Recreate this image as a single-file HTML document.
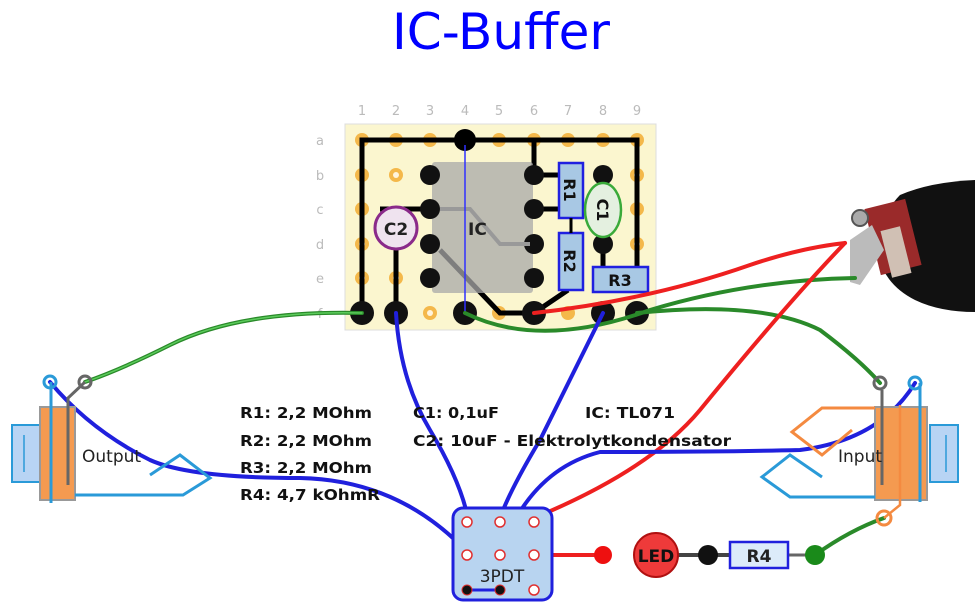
<!DOCTYPE html>
<html><head><meta charset="utf-8"><style>
html,body{margin:0;padding:0;background:#fff;}
svg{display:block;}
text{font-family:"DejaVu Sans","Liberation Sans",sans-serif;}
</style></head><body>
<svg width="980" height="606" viewBox="0 0 980 606" xmlns="http://www.w3.org/2000/svg">
<text x="392" y="49" font-size="50" fill="#0000ff" textLength="218" lengthAdjust="spacingAndGlyphs">IC-Buffer</text>

<g font-size="13" fill="#bbb" text-anchor="middle">
<text x="362" y="115">1</text><text x="396" y="115">2</text><text x="430" y="115">3</text><text x="465" y="115">4</text><text x="499" y="115">5</text><text x="534" y="115">6</text><text x="568" y="115">7</text><text x="603" y="115">8</text><text x="637" y="115">9</text>
<text x="320" y="145">a</text><text x="320" y="180">b</text><text x="320" y="214">c</text><text x="320" y="249">d</text><text x="320" y="283">e</text><text x="320" y="318">f</text>
</g>

<rect x="345" y="124" width="311" height="206" fill="#fbf6cf" stroke="#ddd"/>
<g fill="#f4b84a">
<circle cx="362" cy="140" r="7"/><circle cx="396" cy="140" r="7"/><circle cx="430" cy="140" r="7"/><circle cx="499" cy="140" r="7"/><circle cx="534" cy="140" r="7"/><circle cx="568" cy="140" r="7"/><circle cx="603" cy="140" r="7"/><circle cx="637" cy="140" r="7"/>
<circle cx="362" cy="175" r="7"/><circle cx="396" cy="175" r="7"/><circle cx="637" cy="175" r="7"/>
<circle cx="362" cy="209" r="7"/><circle cx="637" cy="209" r="7"/>
<circle cx="362" cy="244" r="7"/><circle cx="637" cy="244" r="7"/>
<circle cx="362" cy="278" r="7"/><circle cx="396" cy="278" r="7"/>
<circle cx="430" cy="313" r="7"/><circle cx="499" cy="313" r="7"/><circle cx="568" cy="313" r="7"/>
</g>
<g fill="#fff4dc">
<circle cx="396" cy="175" r="3"/><circle cx="430" cy="313" r="3"/><circle cx="396" cy="278" r="3"/><circle cx="637" cy="175" r="3"/><circle cx="637" cy="244" r="3"/><circle cx="362" cy="244" r="3"/><circle cx="362" cy="278" r="3"/>
</g>

<g stroke="#000" stroke-width="5" fill="none">
<polyline points="362,313 362,140 637,140 637,278"/>
<polyline points="534,140 534,175 560,175"/>
<line x1="534" y1="209" x2="560" y2="209"/>
<line x1="396" y1="313" x2="396" y2="250"/>
<line x1="603" y1="175" x2="603" y2="268"/>
<polyline points="568,290 534,313 500,313 440,250"/>
<line x1="430" y1="209" x2="380" y2="209"/>
</g>
<circle cx="465" cy="140" r="11" fill="#000"/>

<rect x="432" y="162" width="101" height="131" fill="#a8a8a8" opacity="0.75" rx="3"/>
<g fill="#111">
<circle cx="430" cy="175" r="10"/><circle cx="430" cy="209" r="10"/><circle cx="430" cy="244" r="10"/><circle cx="430" cy="278" r="10"/>
<circle cx="534" cy="175" r="10"/><circle cx="534" cy="209" r="10"/><circle cx="534" cy="244" r="10"/><circle cx="534" cy="278" r="10"/>
<circle cx="603" cy="175" r="10"/><circle cx="603" cy="244" r="10"/>
</g>
<g stroke="#999" stroke-width="4" fill="none"><polyline points="440,209 470,209 500,244 530,244"/></g>
<text x="468" y="235" font-size="17" font-weight="bold" font-family="Liberation Serif,serif" fill="#222">IC</text>

<circle cx="396" cy="228" r="21" fill="#efe3ef" stroke="#8a2a8a" stroke-width="3"/>
<text x="396" y="235" font-size="17" font-weight="bold" text-anchor="middle" fill="#222">C2</text>
<rect x="559" y="163" width="24" height="55" fill="#a8c8e4" stroke="#2020e0" stroke-width="2.5"/>
<rect x="559" y="233" width="24" height="57" fill="#a8c8e4" stroke="#2020e0" stroke-width="2.5"/>
<line x1="571" y1="218" x2="571" y2="233" stroke="#000" stroke-width="3"/>
<text transform="translate(564,190) rotate(90)" font-size="16" font-weight="bold" text-anchor="middle" fill="#111">R1</text>
<text transform="translate(564,261) rotate(90)" font-size="16" font-weight="bold" text-anchor="middle" fill="#111">R2</text>
<rect x="593" y="267" width="55" height="25" fill="#a8c8e4" stroke="#2020e0" stroke-width="2.5"/>
<text x="620" y="286" font-size="16" font-weight="bold" text-anchor="middle" fill="#111">R3</text>
<ellipse cx="603" cy="210" rx="18" ry="27" fill="#e4f0e0" stroke="#3aaa3a" stroke-width="2.5"/>
<text transform="translate(597,210) rotate(90)" font-size="16" font-weight="bold" text-anchor="middle" fill="#111">C1</text>

<g fill="#111">
<circle cx="362" cy="313" r="12"/><circle cx="396" cy="313" r="12"/><circle cx="465" cy="313" r="12"/><circle cx="534" cy="313" r="12"/><circle cx="603" cy="313" r="12"/><circle cx="637" cy="313" r="12"/>
</g>
<line x1="465" y1="145" x2="465" y2="313" stroke="#3030ff" stroke-width="1.5"/>

<!-- jack photo -->
<g>
<path d="M900,195 Q930,182 975,180 L975,312 Q940,312 915,300 Q885,285 878,255 Q880,215 900,195 Z" fill="#111"/>
<rect x="872" y="203" width="42" height="68" fill="#9a2a2a" transform="rotate(-14 893 237)"/>
<rect x="886" y="228" width="20" height="48" fill="#d0c0b4" transform="rotate(-14 896 252)"/>
<circle cx="860" cy="218" r="8" fill="#aaa" stroke="#555" stroke-width="2"/>
<polygon points="850,240 872,225 884,250 860,285 850,282" fill="#bbb"/>
</g>

<g fill="none" stroke-linecap="round">
<path d="M362,313 Q240,310 170,345 Q120,370 85,382" stroke="#2a8a2a" stroke-width="4"/>
<path d="M362,313 Q240,310 170,345 Q120,370 85,382" stroke="#5ccc5c" stroke-width="1.5"/>
<path d="M465,313 Q540,350 650,310 Q750,280 855,278" stroke="#2a8a2a" stroke-width="4"/>
<path d="M637,313 Q760,300 820,330 Q860,360 880,383" stroke="#2a8a2a" stroke-width="4"/>
<path d="M534,313 Q650,300 750,265 Q800,248 845,243" stroke="#ee2020" stroke-width="4"/>
<path d="M534,518 Q650,470 700,410 Q790,300 845,243" stroke="#ee2020" stroke-width="4"/>
<path d="M396,313 Q400,380 430,430 Q460,480 468,518" stroke="#2020dd" stroke-width="4"/>
<path d="M603,313 Q570,380 540,440 Q510,490 500,518" stroke="#2020dd" stroke-width="4"/>
<path d="M500,553 Q530,470 600,452 Q720,452 800,450 Q880,440 915,383" stroke="#2020dd" stroke-width="4"/>
<path d="M50,382 Q90,430 150,460 Q190,478 300,478 Q400,480 468,553" stroke="#2020dd" stroke-width="4"/>
<path d="M815,555 Q850,530 884,518" stroke="#2a8a2a" stroke-width="4"/>
<line x1="534" y1="555" x2="603" y2="555" stroke="#ee2020" stroke-width="4"/>
</g>

<rect x="12" y="425" width="28" height="57" fill="#b8d4f4" stroke="#2a9ad8" stroke-width="2"/>
<line x1="24" y1="435" x2="24" y2="472" stroke="#2a9ad8" stroke-width="1.5"/>
<rect x="40" y="407" width="35" height="93" fill="#f49a50" stroke="#999" stroke-width="2"/>
<line x1="51" y1="382" x2="51" y2="503" stroke="#2a9ad8" stroke-width="3"/>
<circle cx="50" cy="382" r="6" fill="none" stroke="#2a9ad8" stroke-width="3"/>
<polyline points="68,485 68,398 85,382" fill="none" stroke="#666" stroke-width="3"/>
<circle cx="85" cy="382" r="6" fill="none" stroke="#666" stroke-width="3"/>
<polyline points="75,495 183,495 210,478 180,455 150,475" fill="none" stroke="#2a9ad8" stroke-width="3"/>
<text x="82" y="462" font-size="17" fill="#222">Output</text>

<rect x="930" y="425" width="28" height="57" fill="#b8d4f4" stroke="#2a9ad8" stroke-width="2"/>
<line x1="946" y1="435" x2="946" y2="472" stroke="#2a9ad8" stroke-width="1.5"/>
<rect x="875" y="407" width="52" height="93" fill="#f49a50" stroke="#999" stroke-width="2"/>
<line x1="920" y1="383" x2="920" y2="502" stroke="#2a9ad8" stroke-width="3"/>
<circle cx="915" cy="383" r="6" fill="none" stroke="#2a9ad8" stroke-width="3"/>
<line x1="882" y1="390" x2="882" y2="485" stroke="#666" stroke-width="3"/>
<circle cx="880" cy="383" r="6" fill="none" stroke="#666" stroke-width="3"/>
<polyline points="900,405 900,505 884,518" fill="none" stroke="#f48a40" stroke-width="2.5"/>
<circle cx="884" cy="518" r="7" fill="none" stroke="#f48a40" stroke-width="3"/>
<polyline points="875,408 822,408 792,432 822,455 852,430" fill="none" stroke="#f48a40" stroke-width="3"/>
<polyline points="875,497 790,497 762,477 790,455 822,477" fill="none" stroke="#2a9ad8" stroke-width="3"/>
<text x="838" y="462" font-size="17" fill="#222">Input</text>

<rect x="453" y="508" width="99" height="92" rx="10" fill="#b8d4f0" stroke="#2020dd" stroke-width="3"/>
<g fill="#fff" stroke="#e03030" stroke-width="1.5">
<circle cx="467" cy="522" r="5"/><circle cx="500" cy="522" r="5"/><circle cx="534" cy="522" r="5"/>
<circle cx="467" cy="555" r="5"/><circle cx="500" cy="555" r="5"/><circle cx="534" cy="555" r="5"/>
<circle cx="534" cy="590" r="5"/>
</g>
<line x1="467" y1="590" x2="500" y2="590" stroke="#2020dd" stroke-width="3"/>
<circle cx="467" cy="590" r="5" fill="#111" stroke="#e03030"/><circle cx="500" cy="590" r="5" fill="#111" stroke="#e03030"/>
<text x="502" y="582" font-size="17" text-anchor="middle" fill="#222">3PDT</text>

<circle cx="603" cy="555" r="9" fill="#ee1010"/>
<line x1="678" y1="555" x2="730" y2="555" stroke="#444" stroke-width="4"/>
<line x1="788" y1="555" x2="815" y2="555" stroke="#666" stroke-width="3"/>
<circle cx="656" cy="555" r="22" fill="#ee3a3a" stroke="#b01010" stroke-width="2"/>
<text x="656" y="562" font-size="17" font-weight="bold" text-anchor="middle" fill="#111">LED</text>
<circle cx="708" cy="555" r="10" fill="#111"/>
<rect x="730" y="542" width="58" height="26" fill="#dcebfa" stroke="#2020dd" stroke-width="2.5"/>
<text x="759" y="562" font-size="17" font-weight="bold" text-anchor="middle" fill="#222">R4</text>
<circle cx="815" cy="555" r="10" fill="#1a8a1a"/>

<g font-size="15" font-weight="bold" fill="#111">
<text x="240" y="418" textLength="132" lengthAdjust="spacingAndGlyphs">R1: 2,2 MOhm</text>
<text x="240" y="446" textLength="132" lengthAdjust="spacingAndGlyphs">R2: 2,2 MOhm</text>
<text x="240" y="473" textLength="132" lengthAdjust="spacingAndGlyphs">R3: 2,2 MOhm</text>
<text x="240" y="500" textLength="140" lengthAdjust="spacingAndGlyphs">R4: 4,7 kOhmR</text>
<text x="413" y="418" textLength="86" lengthAdjust="spacingAndGlyphs">C1: 0,1uF</text>
<text x="413" y="446" textLength="318" lengthAdjust="spacingAndGlyphs">C2: 10uF - Elektrolytkondensator</text>
<text x="585" y="418" textLength="90" lengthAdjust="spacingAndGlyphs">IC: TL071</text>
</g>
</svg>
</body></html>
